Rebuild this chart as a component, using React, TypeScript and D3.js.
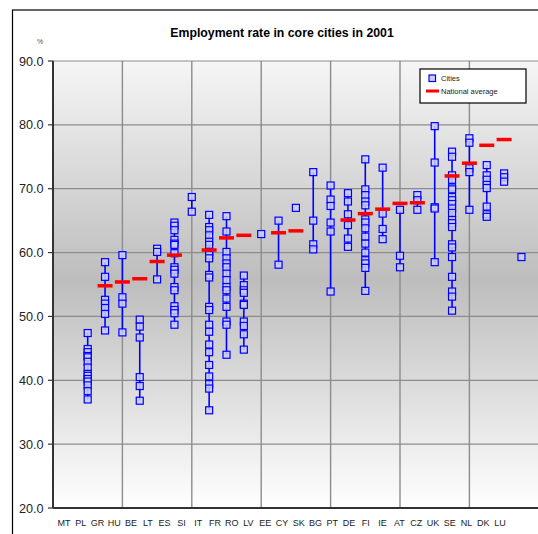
import * as d3 from 'd3';

// Country codes, left to right (MT has no city data)
const countries = [
  'MT', 'PL', 'GR', 'HU', 'BE', 'LT', 'ES', 'SI', 'IT', 'FR', 'RO', 'LV', 'EE', 'CY',
  'SK', 'BG', 'PT', 'DE', 'FI', 'IE', 'AT', 'CZ', 'UK', 'SE', 'NL', 'DK', 'LU',
];

// Employment rate of each core city, one list per column position
const cityRates: number[][] = [
  [],
  [47.4, 44.9, 44.4, 43.8, 43.6, 42.9, 42.0, 41.0, 40.7, 40.2, 39.8, 39.2, 38.3, 37.0],
  [58.5, 56.2, 52.6, 52.0, 51.3, 50.4, 47.8],
  [59.6, 53.0, 52.0, 47.5],
  [49.5, 48.4, 46.7, 40.5, 39.1, 36.8],
  [60.6, 60.1, 55.8],
  [64.7, 64.2, 63.5, 62.0, 61.4, 61.2, 59.9, 57.7, 57.3, 56.7, 54.6, 54.1, 51.6, 51.0, 50.5, 48.7],
  [68.7, 66.4],
  [65.9, 64.0, 63.5, 62.7, 61.7, 61.2, 60.1, 59.6, 59.1, 56.5, 56.1, 51.5, 51.0, 48.7, 47.6, 45.6, 44.4, 42.4, 40.6, 39.4, 38.7, 35.3],
  [65.7, 63.3, 60.1, 59.1, 58.3, 57.7, 56.7, 55.7, 54.6, 54.1, 52.8, 51.5, 49.2, 48.7, 44.0],
  [56.4, 54.9, 54.1, 53.7, 52.0, 51.8, 49.2, 48.5, 47.2, 44.8],
  [62.9],
  [65.0, 58.1],
  [67.0],
  [72.6, 65.0, 61.3, 60.5],
  [70.5, 68.3, 67.3, 64.7, 63.3, 53.9],
  [69.3, 68.0, 66.0, 64.3, 62.2, 60.9],
  [74.6, 69.9, 69.0, 68.0, 67.4, 65.2, 64.7, 63.8, 62.5, 61.4, 60.0, 58.8, 58.3, 57.6, 54.0],
  [73.3, 66.1, 63.7, 62.1],
  [66.7, 59.5, 57.7],
  [69.0, 68.2, 66.7],
  [79.8, 74.1, 67.1, 66.9, 58.5],
  [75.8, 75.0, 72.1, 71.4, 70.2, 69.9, 68.7, 68.2, 67.6, 66.9, 66.2, 65.1, 64.6, 64.0, 61.3, 60.8, 59.3, 56.2, 53.9, 53.1, 50.9],
  [77.9, 77.2, 73.2, 72.6, 66.7],
  [73.7, 72.1, 71.4, 70.6, 70.1, 67.2, 66.0, 65.6],
  [72.4, 71.8, 71.1],
  [59.3],
];

// National average per column position (null = not shown)
const nationalAverage: (number | null)[] = [
  null, null, 54.8, 55.4, 55.9, 58.6, 59.6, null, 60.4, 62.3, 62.7, null, 63.1, 63.4,
  null, null, 65.1, 66.1, 66.8, 67.7, 67.8, null, 72.0, 74.0, 76.8, 77.7, null,
];

const yTicks = [20, 30, 40, 50, 60, 70, 80, 90];
const xGrid = [4, 8, 12, 16, 20, 24, 28];

const W = 538;
const H = 534;
const plot = { left: 53, top: 61, right: 538.8, bottom: 508 };
const font = "'Liberation Sans', Arial, sans-serif";

export default function App() {
  const x = d3.scaleLinear().domain([0, 28]).range([plot.left, plot.right]);
  const y = d3.scaleLinear().domain([20, 90]).range([plot.bottom, plot.top]);
  const labelX = d3.scaleLinear().domain([0, countries.length - 1]).range([64, 500]);
  const sq = 7;

  return (
    <svg width={W} height={H} style={{ position: 'absolute', left: 0, top: 0, background: '#fff' }}>
      <defs>
        <linearGradient id="bg" x1="0" y1="0" x2="0" y2="1">
          <stop offset="0%" stopColor="#f6f6f6" />
          <stop offset="49%" stopColor="#bdbdbd" />
          <stop offset="100%" stopColor="#ffffff" />
        </linearGradient>
      </defs>

      {/* chart frame */}
      <rect x={12.5} y={10} width={600} height={600} fill="#fff" stroke="#000" strokeWidth={1.2} />

      <text x={282} y={37} textAnchor="middle" fontFamily={font} fontSize={12.3} fontWeight="bold" fill="#000">
        Employment rate in core cities in 2001
      </text>
      <text x={40} y={44} textAnchor="middle" fontFamily={font} fontSize={7} fill="#555">%</text>

      {/* plot background */}
      <rect x={plot.left} y={plot.top} width={plot.right - plot.left} height={plot.bottom - plot.top} fill="url(#bg)" />

      {/* gridlines */}
      {yTicks.slice(1).map((t) => (
        <line key={'h' + t} x1={plot.left} x2={plot.right} y1={y(t)} y2={y(t)} stroke="#8c8c8c" strokeWidth={1.2} />
      ))}
      {xGrid.map((t) => (
        <line key={'v' + t} x1={x(t)} x2={x(t)} y1={plot.top} y2={plot.bottom} stroke="#8c8c8c" strokeWidth={1.4} />
      ))}

      {/* axes */}
      <line x1={plot.left} x2={plot.left} y1={plot.top} y2={plot.bottom} stroke="#333" strokeWidth={2} />
      <line x1={plot.left} x2={plot.right} y1={plot.bottom} y2={plot.bottom} stroke="#333" strokeWidth={2} />
      {yTicks.map((t) => (
        <g key={'t' + t}>
          <line x1={plot.left - 5} x2={plot.left} y1={y(t)} y2={y(t)} stroke="#333" strokeWidth={1.2} />
          <text x={43.5} y={y(t) + 4.5} textAnchor="end" fontFamily={font} fontSize={12.6} fill="#222">
            {t.toFixed(1)}
          </text>
        </g>
      ))}

      {/* city columns */}
      {cityRates.map((vals, i) => {
        if (!vals.length) return null;
        const cx = x(i + 1);
        const [lo, hi] = d3.extent(vals) as [number, number];
        return (
          <g key={'c' + i}>
            {vals.length > 1 && (
              <line x1={cx} x2={cx} y1={y(hi)} y2={y(lo)} stroke="#0000ff" strokeWidth={1.6} />
            )}
            {vals.map((v, j) => (
              <rect
                key={j}
                x={cx - sq / 2}
                y={y(v) - sq / 2}
                width={sq}
                height={sq}
                fill="#ccccff"
                fillOpacity={0.85}
                stroke="#0000ff"
                strokeWidth={1.2}
              />
            ))}
          </g>
        );
      })}

      {/* national averages */}
      {nationalAverage.map((v, i) =>
        v == null ? null : (
          <rect key={'n' + i} x={x(i + 1) - 7.5} y={y(v) - 1.75} width={15} height={3.5} fill="#ff0000" />
        )
      )}

      {/* country labels */}
      {countries.map((c, i) => (
        <text key={c} x={labelX(i)} y={526} textAnchor="middle" fontFamily={font} fontSize={9} fill="#222">
          {c}
        </text>
      ))}

      {/* legend */}
      <rect x={420} y={69} width={106} height={34} fill="#fff" stroke="#000" strokeWidth={1.2} />
      <rect x={429} y={75} width={6.5} height={6.5} fill="#ccccff" stroke="#0000ff" strokeWidth={1.2} />
      <text x={441} y={81} fontFamily={font} fontSize={7.5} fill="#222">Cities</text>
      <line x1={426} x2={439} y1={91} y2={91} stroke="#ff0000" strokeWidth={3} />
      <text x={441} y={94} fontFamily={font} fontSize={7.5} fill="#222">National average</text>
    </svg>
  );
}
